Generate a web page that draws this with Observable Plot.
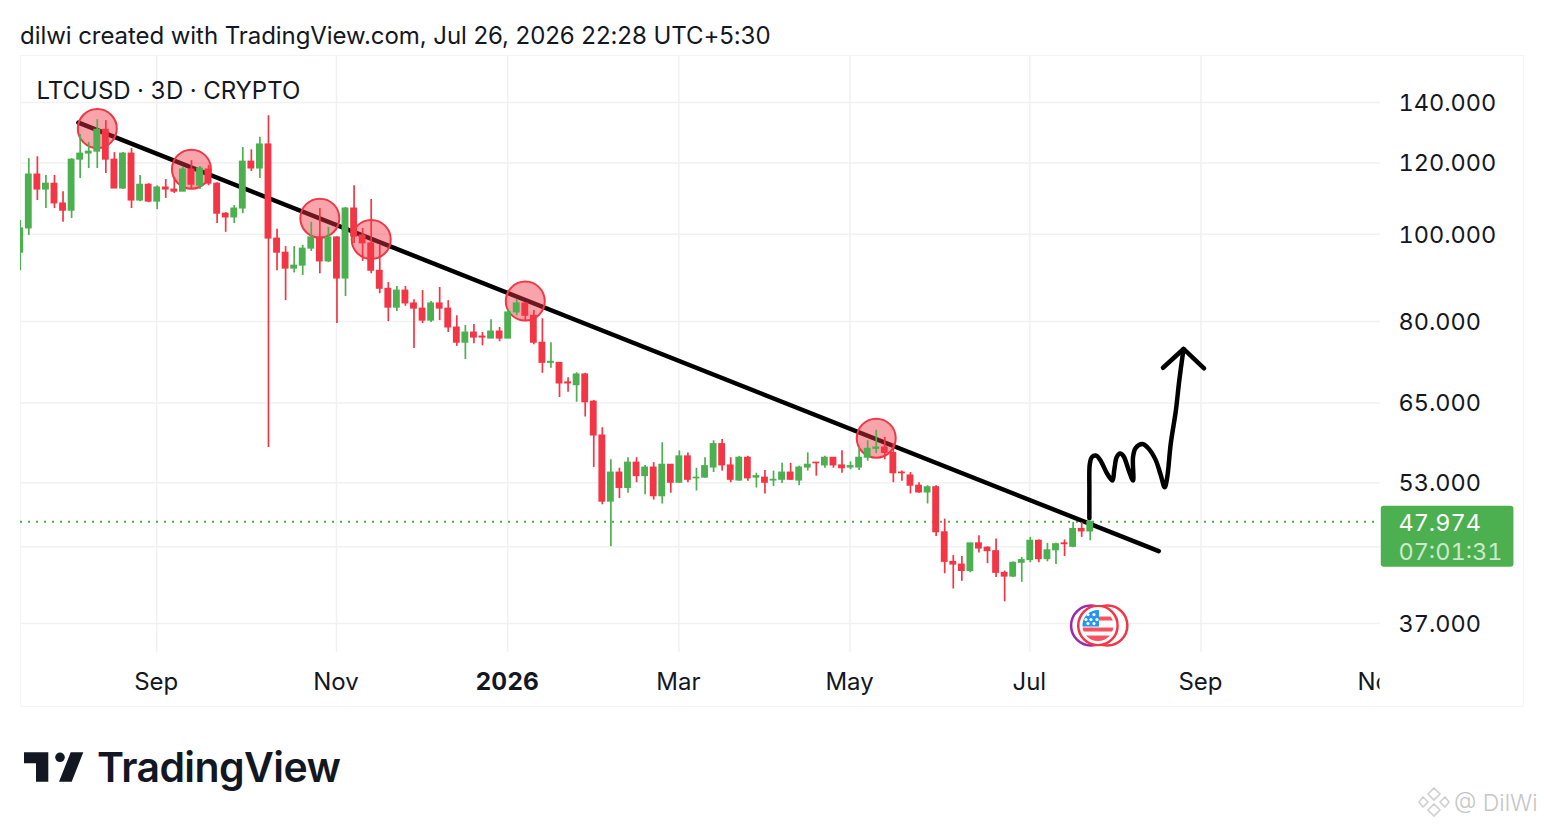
<!DOCTYPE html>
<html><head><meta charset="utf-8">
<script src="https://cdn.jsdelivr.net/npm/d3@7"></script>
<script src="https://cdn.jsdelivr.net/npm/@observablehq/plot@0.6"></script>
<style>
html,body{margin:0;padding:0;background:#fff;width:1544px;height:828px;overflow:hidden;font-family:Inter,"Noto Sans",sans-serif;color:#131722}
#title{position:absolute;left:20px;top:21px;font-size:24px;line-height:30px;white-space:nowrap;letter-spacing:-.06px}
#panel{position:absolute;left:20px;top:55px;width:1504px;height:652px;box-sizing:border-box;border:1px solid #f2f3f5}
#chart{position:absolute;left:20px;top:55px}
#logo{position:absolute;left:0;top:730px}
#brand{position:absolute;left:97px;top:742px;font-size:41px;line-height:50px;font-weight:600;color:#131722;letter-spacing:-.6px}
#wmk{position:absolute;left:1418px;top:786px}
#wm{position:absolute;left:1454px;top:788px;font-size:23px;line-height:30px;font-weight:300;color:#c6c6c6;white-space:nowrap}
</style></head><body>
<div id="title">dilwi created with TradingView.com, Jul 26, 2026 22:28 UTC+5:30</div>
<div id="panel"></div>
<div id="chart"></div>
<svg id="logo" width="100" height="60" viewBox="0 730 100 60"><path fill="#131722" d="M24 752.3H48.3V781.7H36V763.3H24Z M70.7 752.3H83.3L71.7 781.7H59Z"/><circle fill="#131722" cx="60" cy="757.3" r="4.8"/></svg>
<div id="brand">TradingView</div>
<svg id="wmk" width="32" height="32" viewBox="0 0 32 32" fill="none" stroke="#d0d0d0" stroke-width="1.6"><path d="M16 2l6 6-6 6-6-6z M5 11l5 5-5 5-4-5z M27 11l4 5-4 5-5-5z M16 18l6 6-6 6-6-6z"/></svg>
<div id="wm">@ DilWi</div>
<script>
const opens=[95.4,101.5,116.5,112.1,113.8,108.2,106.2,121.0,122.9,123.5,130.6,121.0,112.4,122.9,109.0,113.5,108.7,112.7,112.1,111.5,118.0,113.2,118.0,113.8,105.4,104.4,106.8,120.4,118.3,125.8,98.9,95.4,91.6,92.3,96.4,99.2,93.3,99.2,89.3,106.8,99.7,97.7,91.1,87.0,82.9,86.6,83.8,82.7,80.2,83.8,82.7,78.8,75.8,77.8,77.0,76.6,78.0,76.6,81.9,83.8,81.2,75.8,72.0,72.0,68.5,68.0,69.9,65.2,59.8,50.5,54.4,52.3,55.8,53.9,55.1,51.2,55.5,53.0,56.7,53.6,53.7,55.1,58.5,55.4,53.3,56.5,53.7,53.7,53.3,53.4,54.4,53.3,55.1,55.8,55.4,56.5,55.4,55.1,55.1,56.5,57.8,58.0,57.2,54.4,54.0,52.6,51.7,52.4,46.7,43.3,43.0,42.3,45.4,44.9,44.5,42.1,41.7,43.2,43.5,45.7,43.6,44.6,45.4,45.0,47.1,46.8];
const highs=[103.6,121.3,121.9,116.2,116.2,111.5,121.3,129.0,126.4,134.0,133.7,123.2,123.2,124.5,116.2,113.8,113.2,115.0,115.6,118.6,120.7,118.9,119.2,114.1,105.7,107.6,124.8,124.1,128.1,135.4,101.3,96.9,96.9,97.2,103.1,106.8,101.8,99.4,107.1,113.2,101.5,109.3,97.2,88.4,87.5,87.5,84.6,86.6,84.2,87.3,84.4,81.2,79.2,79.4,77.8,80.4,78.8,82.5,84.6,84.0,82.3,80.6,75.8,72.0,69.3,70.2,70.1,65.4,61.0,56.2,55.0,56.5,56.5,55.4,55.8,58.7,55.5,57.5,57.2,55.0,56.5,59.0,59.2,56.5,56.7,56.7,54.3,54.7,54.6,55.7,55.7,55.3,57.2,55.8,56.7,56.5,57.5,55.9,58.0,59.0,60.6,59.5,58.5,54.6,54.4,53.0,52.6,52.6,48.3,44.0,43.9,45.4,46.3,45.0,45.9,42.3,43.3,43.8,46.1,45.8,45.4,45.4,45.8,47.9,47.9,47.974];
const lows=[91.1,99.7,109.0,106.8,106.8,103.1,104.1,115.3,118.3,118.3,116.8,112.4,112.1,106.8,108.7,108.4,106.5,109.6,111.0,111.5,112.4,112.1,113.2,102.8,100.5,102.8,105.4,117.4,115.3,58.0,91.1,84.4,90.6,90.0,95.7,90.4,93.0,79.6,85.3,97.7,93.3,90.4,85.9,80.0,82.1,83.2,74.7,79.6,79.8,80.2,77.8,75.1,72.6,75.6,75.2,76.6,76.0,76.6,81.2,80.0,75.4,70.1,71.0,65.9,66.8,65.1,62.7,55.1,50.1,45.0,50.9,51.6,53.0,51.4,50.7,50.2,51.6,52.9,53.0,51.9,53.6,54.4,54.6,53.0,53.2,53.2,52.3,51.5,52.5,52.9,53.3,52.6,54.6,53.9,55.0,55.0,54.3,54.8,54.7,56.0,57.1,56.2,53.0,53.2,51.5,51.6,50.2,46.2,42.0,40.4,41.2,42.1,44.3,43.1,41.6,39.1,41.6,41.1,43.2,43.2,43.3,43.0,43.9,44.9,46.1,45.7];
const closes=[101.5,116.5,112.1,113.8,108.2,106.2,121.0,122.9,123.5,130.6,121.0,112.4,122.9,109.0,113.5,108.7,112.7,112.1,111.5,118.0,113.5,118.3,113.8,105.4,104.4,106.8,120.4,118.3,125.8,98.9,95.4,91.6,92.3,96.4,99.2,93.3,99.2,89.3,106.8,99.4,97.7,91.1,87.0,82.9,86.6,83.8,82.7,80.2,83.8,82.7,78.8,75.8,77.8,76.8,76.8,78.0,76.6,81.9,83.8,81.2,75.8,72.0,72.2,68.3,68.3,69.9,65.1,59.8,50.5,54.4,52.3,55.8,53.9,55.1,51.2,55.5,53.0,56.7,53.4,53.7,55.3,58.5,55.4,53.4,56.5,53.6,53.9,53.0,53.4,54.4,53.4,55.1,55.5,55.7,56.5,55.4,55.0,55.3,56.5,57.8,58.0,57.2,54.3,54.3,52.6,51.7,52.4,46.7,43.3,43.0,42.3,45.4,44.8,44.5,42.1,41.7,43.2,43.5,45.7,43.6,44.6,45.3,45.3,47.1,46.8,47.974];
const priceTicks=[37,53,65,80,100,120,140];
const gridPrices=[37,45,53,65,80,100,120,140];
const timeBars=[15,36,56,76,96,117,137];
const monthBars=[15,36,76,96,117,137,158];
const monthNames=["Sep","Nov","Mar","May","Jul","Sep","Nov"];
const yearBars=[56];
const yearNames=["2026"];
const trendBars=[5.8,132];
const trendPrices=[133.0,44.5];
const touchBars=[8,19,34,40,58,99];
const touchPrices=[131.0,118.1,104.2,98.7,84.3,59.4];
const pathBars=[123.9,123.9,123.95,124.2,124.7,125.2,126.0,126.6,126.8,127.1,127.5,127.9,128.5,129.0,129.0,129.3,130.1,130.7,131.6,132.2,132.7,133.0,133.4,134.0,134.4,134.9];
const pathPrices=[48.4,52.0,55.6,56.6,56.8,56.1,54.2,53.3,54.7,56.6,57.1,56.7,54.7,53.3,56.6,57.9,58.5,58.0,56.3,54.2,52.4,53.8,58.5,63.7,68.8,74.6];
const headBars=[132.5,134.9,137.3];
const headPrices=[71.1,74.6,71.0];
const lastPrice=47.974;
const countdown="07:01:31";
const eventBars=[124.1,126.0];
const eventColors=["#9c27b0","#f23645"];
const flagBar=124.9, eventPrice=36.8;

const green="#4caf50", red="#f23645";
const bars=opens.map((o,k)=>({i:k-1,o,h:highs[k],l:lows[k],c:closes[k],col:closes[k]>=o?green:red}));
const trend=trendBars.map((x,k)=>({x,y:trendPrices[k]}));
const touches=touchBars.map((x,k)=>({x,y:touchPrices[k]}));
const scribble=pathBars.map((x,k)=>({x,y:pathPrices[k]}));
const head=headBars.map((x,k)=>({x,y:headPrices[k]}));
const events=eventBars.map((x,k)=>({x,col:eventColors[k]}));

let stars="";
for(const [cx,cy] of [[9,10],[15,10],[7,15],[12,15],[18,15],[9,19],[15,19]]) stars+=`<circle cx="${cx+2}" cy="${cy}" r="1.6" fill="#fff"/>`;
const flagSvg=`<svg xmlns="http://www.w3.org/2000/svg" width="42" height="42" viewBox="0 0 42 42"><clipPath id="c"><circle cx="21" cy="21" r="15.5"/></clipPath><circle cx="21" cy="21" r="19.7" fill="#fff" stroke="#f23645" stroke-width="2.5"/><g clip-path="url(#c)"><rect width="42" height="42" fill="#fff"/><rect x="21" y="12" width="21" height="4" fill="#f7525f"/><rect y="23" width="42" height="4" fill="#f7525f"/><rect y="31" width="42" height="6" fill="#f7525f"/><rect y="5" width="22" height="17" fill="#2196f3"/>${stars}</g></svg>`;
const flagSrc="data:image/svg+xml,"+encodeURIComponent(flagSvg);

const font="Inter,'Noto Sans',sans-serif", ink="#131722";
const plot=Plot.plot({
  width:1504,height:652,marginLeft:0,marginRight:144,marginTop:0,marginBottom:55,
  style:{fontFamily:font,background:"transparent",overflow:"visible",fontVariantNumeric:"tabular-nums"},
  x:{type:"linear",domain:[-0.97,157.91],axis:null},
  y:{type:"log",domain:[34.35,157.9],axis:null},
  color:{type:"identity"},
  marks:[
    Plot.ruleY(gridPrices,{stroke:"#f1f1f3",strokeWidth:1.5}),
    Plot.ruleX(timeBars,{stroke:"#f1f1f3",strokeWidth:1.5,dx:-0.5}),
    Plot.ruleY([lastPrice],{stroke:green,strokeWidth:2,strokeDasharray:"2 6"}),
    Plot.line(trend,{x:"x",y:"y",stroke:"#000",strokeWidth:4.5,strokeLinecap:"round"}),
    Plot.dot(touches,{x:"x",y:"y",r:19.5,fill:red,fillOpacity:.45,stroke:red,strokeWidth:2}),
    Plot.ruleX(bars,{x:"i",y1:"l",y2:"h",stroke:"col",strokeWidth:1.7,clip:true}),
    Plot.rect(bars,{x1:d=>d.i-0.4,x2:d=>d.i+0.4,y1:"o",y2:"c",fill:"col",insetTop:-0.5,insetBottom:-0.5,clip:true}),
    Plot.line(scribble,{x:"x",y:"y",stroke:"#000",strokeWidth:4.5,curve:"catmull-rom",strokeLinecap:"round",strokeLinejoin:"round"}),
    Plot.line(head,{x:"x",y:"y",stroke:"#000",strokeWidth:4.5,strokeLinecap:"round",strokeLinejoin:"round"}),
    Plot.dot(events,{x:"x",y:eventPrice,r:20,fill:"#fff",stroke:"col",strokeWidth:2.5}),
    Plot.image([flagBar],{x:d=>d,y:eventPrice,width:42,height:42,src:flagSrc}),
    Plot.text(["LTCUSD · 3D · CRYPTO"],{text:d=>d,frameAnchor:"top-left",dx:16,dy:36,lineAnchor:"middle",textAnchor:"start",fontSize:24,fill:ink}),
    Plot.text(monthBars,{x:d=>d,text:(d,k)=>monthNames[k],frameAnchor:"bottom",lineAnchor:"middle",dy:29.5,dx:-1,fontSize:24,fill:ink}),
    Plot.text(yearBars,{x:d=>d,text:(d,k)=>yearNames[k],frameAnchor:"bottom",lineAnchor:"middle",dy:29.5,dx:-1,fontSize:24.5,fontWeight:700,fill:ink}),
    Plot.axisY(priceTicks,{anchor:"right",tickSize:0,tickPadding:18,dy:1,tickFormat:d3.format(".3f"),fontSize:23.5,color:ink,label:null,fill:ink}),
    Plot.rect([lastPrice],{x1:158,x2:173.5,y1:49.9,y2:42.7,fill:green,r:3}),
    Plot.text([lastPrice],{x:160,y:d=>d,dy:2,text:d=>d3.format(".3f")(d),textAnchor:"start",fontSize:23.5,fill:"#fff"}),
    Plot.text([countdown],{x:160,y:44.5,dy:1,text:d=>d,textAnchor:"start",fontSize:23.5,fill:"#fff",fillOpacity:.72})
  ]
});
const ns="http://www.w3.org/2000/svg";
const defs=document.createElementNS(ns,"defs");
defs.innerHTML='<clipPath id="paneclip"><rect x="0" y="0" width="1360" height="652"/></clipPath>';
plot.insertBefore(defs,plot.firstChild);
const g=[...plot.querySelectorAll("g")].find(n=>n.children.length===monthNames.length&&n.textContent.includes("Mar"));
if(g) g.setAttribute("clip-path","url(#paneclip)");
document.getElementById("chart").appendChild(plot);
</script>
</body></html>
